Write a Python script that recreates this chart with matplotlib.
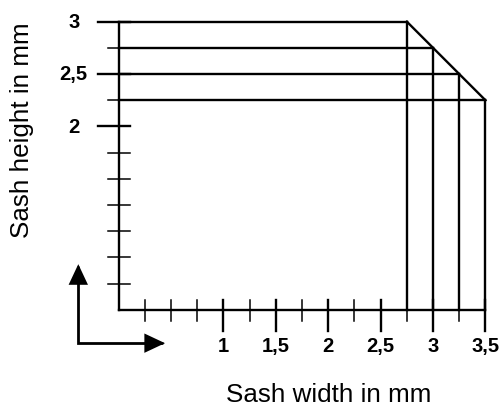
import matplotlib
matplotlib.use("Agg")
import matplotlib.pyplot as plt
from matplotlib.patches import FancyArrowPatch
from matplotlib.path import Path

# sash sizes (mm): each width pairs with a height on the cut-off corner
widths = [2.75, 3.0, 3.25, 3.5]
heights = [3.0, 2.75, 2.5, 2.25]

x_major = [1, 1.5, 2, 2.5, 3, 3.5]
x_minor = [0.25, 0.5, 0.75, 1.25, 1.75, 2.25, 2.75, 3.25]
y_major = [2, 2.5, 3]
y_minor = [0.5, 0.75, 1, 1.25, 1.5, 1.75, 2.25, 2.75]
x0, y0 = 0.0, 0.25

xlabel = "Sash width in mm"
ylabel = "Sash height in mm"


def fmt(v):
    return f"{v:g}".replace(".", ",")


def main():
    plt.rcParams["font.family"] = ["Liberation Sans", "DejaVu Sans"]
    fig = plt.figure(figsize=(5.03, 4.09), dpi=100)
    ax = fig.add_axes([0, 0, 1, 1])
    ax.set_xlim(-1.1326, 3.667)
    ax.set_ylim(-0.696, 3.207)
    ax.axis("off")

    px = 1 / 104.8  # one pixel in data units
    lw = 1.7

    # axes lines
    ax.plot([x0, x0], [y0, max(y_major)], color="black", lw=lw, solid_capstyle="projecting")
    ax.plot([x0, max(x_major)], [y0, y0], color="black", lw=lw, solid_capstyle="projecting")

    # ticks
    for v in x_major:
        ax.plot([v, v], [y0 - 21 * px, y0 + 10 * px], color="black", lw=lw)
        ax.text(v, y0 - 42 * px, fmt(v), ha="center", va="baseline",
                fontsize=14.5, fontweight="bold")
    for v in x_minor:
        ax.plot([v, v], [y0 - 11 * px, y0 + 10 * px], color="black", lw=1.1)
    for v in y_major:
        ax.plot([x0 - 21 * px, x0 + 11 * px], [v, v], color="black", lw=lw)
        ax.text(x0 - 45 * px, v - 6.3 * px, fmt(v), ha="center", va="baseline",
                fontsize=14.5, fontweight="bold")
    for v in y_minor:
        ax.plot([x0 - 11 * px, x0 + 11 * px], [v, v], color="black", lw=1.1)

    # size envelope
    for w, h in zip(widths, heights):
        ax.plot([x0, w], [h, h], color="black", lw=lw)
        ax.plot([w, w], [y0, h], color="black", lw=lw)
    ax.plot([widths[0], widths[-1]], [heights[0], heights[-1]], color="black", lw=lw)

    # direction arrows
    ax_x, ax_y = x0 - 40.4 * px, y0 - 33.3 * px
    path = Path([(ax_x, y0 + 45.7 * px), (ax_x, ax_y), (x0 + 46.3 * px, ax_y)])
    arr = FancyArrowPatch(path=path, arrowstyle="<|-|>,head_length=11.5,head_width=5.4",
                          mutation_scale=1, color="black", lw=2.0, shrinkA=0, shrinkB=0,
                          joinstyle="miter")
    ax.add_patch(arr)

    # axis titles
    ax.text(2.0, -0.626, xlabel, ha="center", va="baseline", fontsize=18.7)
    ax.text(-0.923, 1.96, ylabel, ha="center", va="center", rotation=90, fontsize=18.7)

    fig.savefig("out.png", dpi=100)


if __name__ == "__main__":
    main()
